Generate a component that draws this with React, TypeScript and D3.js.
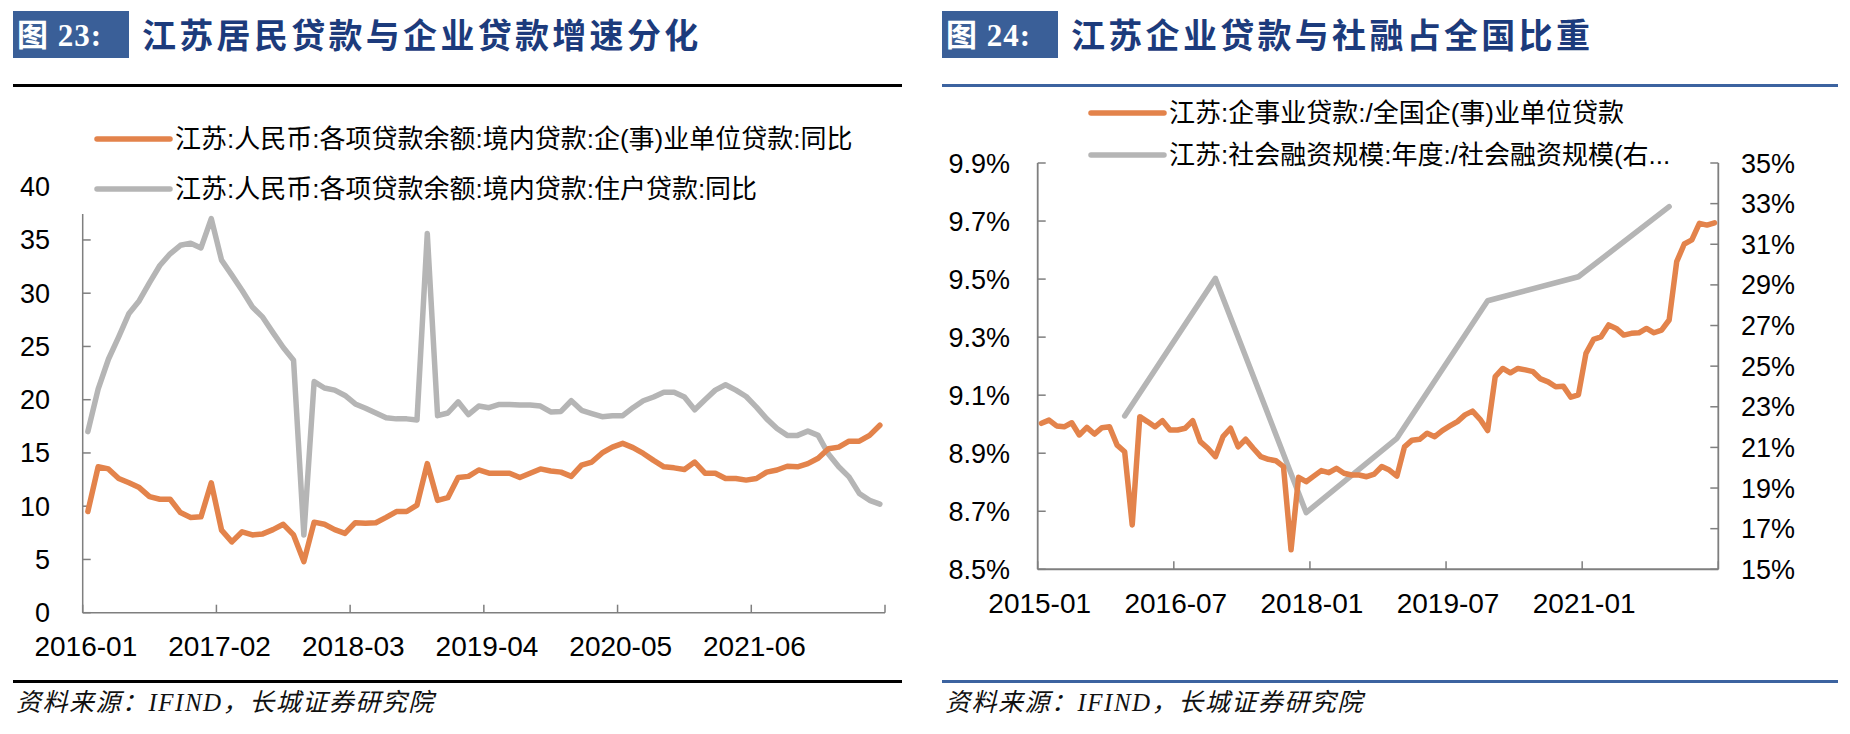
import * as d3 from "d3";

// ---------- data ----------
const fmtMonth = d3.timeFormat("%Y-%m");

// 图23: monthly, 2016-01 .. 2022-06
const loanMonths = d3.timeMonths(new Date(2016, 0, 1), new Date(2022, 6, 1)).map(fmtMonth);

const corpLoanYoY = [
  9.5, 13.7, 13.5, 12.6, 12.2, 11.75, 10.9, 10.65, 10.65, 9.4, 8.95, 9.0,
  12.2, 7.75, 6.65, 7.6, 7.3, 7.4, 7.8, 8.3, 7.3, 4.8, 8.5, 8.3,
  7.8, 7.45, 8.45, 8.4, 8.45, 8.95, 9.5, 9.5, 10.1, 14.0, 10.55, 10.8,
  12.7, 12.8, 13.4, 13.1, 13.1, 13.1, 12.7, 13.1, 13.5, 13.3, 13.2, 12.8,
  13.85, 14.15, 15.0, 15.55, 15.9, 15.5, 14.95, 14.3, 13.7, 13.6, 13.45, 14.15,
  13.1, 13.1, 12.6, 12.6, 12.45, 12.6, 13.2, 13.4, 13.75, 13.7, 14.0, 14.5,
  15.4, 15.55, 16.1, 16.1, 16.65, 17.6,
];

const householdLoanYoY = [
  17.0, 21.0, 23.8, 25.9, 28.1, 29.3, 31.0, 32.6, 33.7, 34.5, 34.7, 34.25,
  37.0, 33.1, 31.7, 30.25, 28.7, 27.75, 26.3, 24.9, 23.7, 7.3, 21.7, 21.1,
  20.9, 20.4, 19.6, 19.2, 18.75, 18.3, 18.2, 18.2, 18.1, 35.6, 18.5, 18.75,
  19.8, 18.6, 19.4, 19.25, 19.55, 19.55, 19.5, 19.5, 19.4, 18.85, 18.9, 19.9,
  19.0, 18.7, 18.4, 18.5, 18.5, 19.25, 19.9, 20.25, 20.7, 20.7, 20.25, 19.05,
  20.0, 20.9, 21.4, 20.9, 20.3, 19.3, 18.2, 17.3, 16.65, 16.65, 17.05, 16.65,
  14.9, 13.7, 12.75, 11.2, 10.55, 10.2,
];

const loanYTicks = [0, 5, 10, 15, 20, 25, 30, 35, 40];
const loanXLabels = ["2016-01", "2017-02", "2018-03", "2019-04", "2020-05", "2021-06"];

// 图24: monthly, 2015-01 .. 2022-06
const shareMonths = d3.timeMonths(new Date(2015, 0, 1), new Date(2022, 6, 1)).map(fmtMonth);

const corpLoanShare = [
  9.003, 9.014, 8.994, 8.991, 9.005, 8.963, 8.989, 8.966, 8.988, 8.991, 8.928, 8.905,
  8.653, 9.026, 9.009, 8.991, 9.012, 8.98, 8.98, 8.986, 9.012, 8.94, 8.917, 8.888,
  8.957, 8.986, 8.922, 8.948, 8.917, 8.888, 8.879, 8.874, 8.854, 8.567, 8.817, 8.802,
  8.821, 8.84, 8.833, 8.848, 8.831, 8.825, 8.825, 8.819, 8.828, 8.854, 8.842, 8.821,
  8.922, 8.945, 8.948, 8.969, 8.957, 8.978, 8.994, 9.009, 9.032, 9.045, 9.017, 8.978,
  9.164, 9.192, 9.177, 9.192, 9.187, 9.181, 9.156, 9.146, 9.129, 9.131, 9.093, 9.101,
  9.244, 9.292, 9.301, 9.342, 9.33, 9.307, 9.313, 9.315, 9.33, 9.315, 9.324, 9.359,
  9.56, 9.621, 9.635, 9.692, 9.686, 9.694,
];

const tsfYears = ["2015-12", "2016-12", "2017-12", "2018-12", "2019-12", "2020-12", "2021-12"];
const tsfShare = [22.55, 29.32, 17.79, 21.45, 28.22, 29.4, 32.85];

const shareLeftTicks = [8.5, 8.7, 8.9, 9.1, 9.3, 9.5, 9.7, 9.9];
const shareRightTicks = [15, 17, 19, 21, 23, 25, 27, 29, 31, 33, 35];
const shareXLabels = ["2015-01", "2016-07", "2018-01", "2019-07", "2021-01"];

// ---------- style ----------
const ORANGE = "#E3834B";
const GRAY = "#B5B5B5";
const BOX_BLUE = "#3A5F98";
const TITLE_BLUE = "#1C3B7C";
const AXIS = "#7f7f7f";
const SANS = "'Liberation Sans', Arial, 'Noto Sans CJK SC', sans-serif";
const SERIF = "'Liberation Serif', 'Times New Roman', 'Noto Sans CJK SC', serif";
const LINE_W = 5.5;

const Header = ({ x, num, title, rule }: { x: number; num: string; title: string; rule: { x2: number; color: string } }) => (
  <g>
    <rect x={x} y={11} width={116} height={47} fill={BOX_BLUE} />
    <text x={x + 4} y={46} fill="#fff" fontFamily={SERIF} fontWeight={700} fontSize={31} letterSpacing={1}>
      图 {num}:
    </text>
    <text x={x + 129} y={48} fill={TITLE_BLUE} fontFamily="'Noto Sans CJK SC', sans-serif" fontWeight={700} fontSize={34} letterSpacing={3.3}>
      {title}
    </text>
    <rect x={x} y={84} width={rule.x2 - x} height={3} fill={rule.color} />
  </g>
);

const Footer = ({ x, x2, color }: { x: number; x2: number; color: string }) => (
  <g>
    <rect x={x} y={680} width={x2 - x} height={3} fill={color} />
    <text x={x + 3} y={711} fontFamily={SERIF} fontStyle="italic" fontSize={25} letterSpacing={1.5} fill="#111">
      资料来源：IFIND，长城证券研究院
    </text>
  </g>
);

const LegendItem = ({ x, y, color, label }: { x: number; y: number; color: string; label: string }) => (
  <g>
    <line x1={x} x2={x + 73} y1={y} y2={y} stroke={color} strokeWidth={LINE_W} strokeLinecap="round" />
    <text x={x + 78} y={y + 9} fontFamily={SANS} fontSize={26} fill="#000">
      {label}
    </text>
  </g>
);

const LoanChart = () => {
  const left = 82.7, right = 885, top = 186.7, bottom = 612.7;
  const x = d3.scaleBand<string>().domain(loanMonths).range([left, right]);
  const y = d3.scaleLinear().domain([0, 40]).range([bottom, top]);
  const cx = (i: number) => (x(loanMonths[i]) ?? 0) + x.bandwidth() / 2;
  const line = d3.line<number>().x((_, i) => cx(i)).y((d) => y(d));
  const tickIdx = d3.range(0, loanMonths.length + 1, 13);
  const tickX = (i: number) => (i < loanMonths.length ? (x(loanMonths[i]) as number) : right);

  return (
    <g>
      <line x1={left} x2={left} y1={top} y2={bottom} stroke={AXIS} strokeWidth={1.5} />
      {loanYTicks.map((t) => (
        <g key={t}>
          <line x1={left} x2={left + 8} y1={y(t)} y2={y(t)} stroke={AXIS} strokeWidth={1.5} />
          <text x={50} y={y(t) + 9.5} textAnchor="end" fontFamily={SANS} fontSize={27} fill="#000">
            {t}
          </text>
        </g>
      ))}
      <line x1={left} x2={right} y1={bottom} y2={bottom} stroke={AXIS} strokeWidth={1.5} />
      {tickIdx.map((i) => (
        <line key={i} x1={tickX(i)} x2={tickX(i)} y1={bottom} y2={bottom - 8} stroke={AXIS} strokeWidth={1.5} />
      ))}
      {loanXLabels.map((m) => (
        <text key={m} x={(x(m) ?? 0) + x.bandwidth() / 2 - 2} y={656} textAnchor="middle" fontFamily={SANS} fontSize={28} fill="#000">
          {m}
        </text>
      ))}
      {/* legend box sits on top of the plot area */}
      <rect x={78} y={105} width={800} height={109} fill="#fff" />
      <LegendItem x={97} y={139} color={ORANGE} label="江苏:人民币:各项贷款余额:境内贷款:企(事)业单位贷款:同比" />
      <LegendItem x={97} y={189} color={GRAY} label="江苏:人民币:各项贷款余额:境内贷款:住户贷款:同比" />
      <path d={line(householdLoanYoY) ?? ""} fill="none" stroke={GRAY} strokeWidth={LINE_W} strokeLinejoin="round" strokeLinecap="round" />
      <path d={line(corpLoanYoY) ?? ""} fill="none" stroke={ORANGE} strokeWidth={LINE_W} strokeLinejoin="round" strokeLinecap="round" />
    </g>
  );
};

const ShareChart = () => {
  const left = 1037.7, right = 1718.3, top = 163, bottom = 569.3;
  const x = d3.scaleBand<string>().domain(shareMonths).range([left, right]);
  const yL = d3.scaleLinear().domain([8.5, 9.9]).range([bottom, top]);
  const yR = d3.scaleLinear().domain([15, 35]).range([bottom, top]);
  const cx = (m: string) => (x(m) ?? 0) + x.bandwidth() / 2;
  const lineL = d3.line<number>().x((_, i) => cx(shareMonths[i])).y((d) => yL(d));
  const lineR = d3.line<number>().x((_, i) => cx(tsfYears[i])).y((d) => yR(d));
  const tickIdx = d3.range(0, shareMonths.length + 1, 18);
  const tickX = (i: number) => (i < shareMonths.length ? (x(shareMonths[i]) as number) : right);

  return (
    <g>
      <LegendItem x={1091} y={113} color={ORANGE} label="江苏:企事业贷款:/全国企(事)业单位贷款" />
      <LegendItem x={1091} y={155} color={GRAY} label="江苏:社会融资规模:年度:/社会融资规模(右..." />

      <line x1={left} x2={left} y1={top} y2={bottom} stroke={AXIS} strokeWidth={1.8} />
      {shareLeftTicks.map((t) => (
        <g key={t}>
          <line x1={left} x2={left + 8} y1={yL(t)} y2={yL(t)} stroke={AXIS} strokeWidth={1.5} />
          <text x={1010} y={yL(t) + 9.5} textAnchor="end" fontFamily={SANS} fontSize={27} fill="#000">
            {t.toFixed(1)}%
          </text>
        </g>
      ))}
      <line x1={right} x2={right} y1={top} y2={bottom} stroke={AXIS} strokeWidth={1.8} />
      {shareRightTicks.map((t) => (
        <g key={t}>
          <line x1={right} x2={right - 8} y1={yR(t)} y2={yR(t)} stroke={AXIS} strokeWidth={1.5} />
          <text x={1741} y={yR(t) + 9.5} textAnchor="start" fontFamily={SANS} fontSize={27} fill="#000">
            {t}%
          </text>
        </g>
      ))}
      <line x1={left} x2={right} y1={bottom} y2={bottom} stroke={AXIS} strokeWidth={2} />
      {tickIdx.map((i) => (
        <line key={i} x1={tickX(i)} x2={tickX(i)} y1={bottom} y2={bottom - 8} stroke={AXIS} strokeWidth={1.5} />
      ))}
      {shareXLabels.map((m) => (
        <text key={m} x={(x(m) ?? 0) + 2} y={613} textAnchor="middle" fontFamily={SANS} fontSize={28} fill="#000">
          {m}
        </text>
      ))}
      <path d={lineR(tsfShare) ?? ""} fill="none" stroke={GRAY} strokeWidth={LINE_W} strokeLinejoin="round" strokeLinecap="round" />
      <path d={lineL(corpLoanShare) ?? ""} fill="none" stroke={ORANGE} strokeWidth={LINE_W} strokeLinejoin="round" strokeLinecap="round" />
    </g>
  );
};

export default function App() {
  return (
    <svg width={1850} height={734} style={{ position: "absolute", left: 0, top: 0, background: "#fff" }}>
      <rect width={1850} height={734} fill="#fff" />
      <Header x={13} num="23" title="江苏居民贷款与企业贷款增速分化" rule={{ x2: 902, color: "#000" }} />
      <Header x={942} num="24" title="江苏企业贷款与社融占全国比重" rule={{ x2: 1838, color: "#3C63A0" }} />
      <LoanChart />
      <ShareChart />
      <Footer x={13} x2={902} color="#000" />
      <Footer x={942} x2={1838} color="#3C63A0" />
    </svg>
  );
}
